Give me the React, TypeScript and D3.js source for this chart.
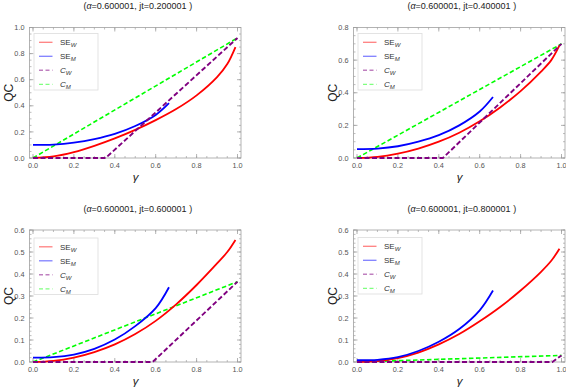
import React from 'react';
import * as d3 from 'd3';

// gamma grids the curves were read on
const gammaW = [0, 0.1, 0.2, 0.3, 0.4, 0.5, 0.6, 0.7, 0.8, 0.9, 0.95, 0.99];
const gammaM = [0, 0.1, 0.2, 0.3, 0.4, 0.5, 0.6, 0.665];

// jt = 0.2
const seW1 = [0, 0.012, 0.045, 0.093, 0.15, 0.215, 0.29, 0.375, 0.48, 0.62, 0.72, 0.85];
const seM1 = [0.1, 0.103, 0.118, 0.145, 0.185, 0.245, 0.33, 0.42];
const cW1 = { gamma: [0, 0.355, 1], value: [0, 0, 0.92] };
const cM1 = { gamma: [0, 1], value: [0, 0.92] };

// jt = 0.4
const seW2 = [0, 0.007, 0.027, 0.058, 0.1, 0.155, 0.225, 0.31, 0.41, 0.53, 0.6, 0.69];
const seM2 = [0.055, 0.058, 0.072, 0.1, 0.14, 0.2, 0.285, 0.374];
const cW2 = { gamma: [0, 0.42, 1], value: [0, 0, 0.7] };
const cM2 = { gamma: [0, 1], value: [0, 0.7] };

// jt = 0.6
const seW3 = [0, 0.005, 0.02, 0.045, 0.08, 0.127, 0.187, 0.262, 0.35, 0.448, 0.5, 0.555];
const seM3 = [0.02, 0.022, 0.034, 0.06, 0.102, 0.163, 0.245, 0.34];
const cW3 = { gamma: [0, 0.585, 1], value: [0, 0, 0.365] };
const cM3 = { gamma: [0, 1], value: [0, 0.365] };

// jt = 0.8
const seW4 = [0, 0.004, 0.018, 0.043, 0.08, 0.127, 0.185, 0.25, 0.325, 0.41, 0.46, 0.515];
const seM4 = [0.008, 0.01, 0.022, 0.05, 0.092, 0.15, 0.235, 0.325];
const cW4 = { gamma: [0, 0.955, 1], value: [0, 0, 0.03] };
const cM4 = { gamma: [0, 1], value: [0, 0.03] };

const jtLabels = ['0.200001', '0.400001', '0.600001', '0.800001'];
const yMaxes = [1.0, 0.8, 0.6, 0.6];
const yMajors = [0.2, 0.2, 0.1, 0.1];
const yMinors = [0.05, 0.05, 0.02, 0.02];

const legendNames = [
  { main: 'SE', sub: 'W', italic: false },
  { main: 'SE', sub: 'M', italic: false },
  { main: 'C', sub: 'W', italic: true },
  { main: 'C', sub: 'M', italic: true },
];

const RED = '#ff0000';
const BLUE = '#0000ff';
const PURPLE = '#800080';
const GREEN = '#00ff00';

const panels = [
  { seW: seW1, seM: seM1, cW: cW1, cM: cM1, left: 29.5, top: 27.5, bottom: 158, legendTop: 33.5 },
  { seW: seW2, seM: seM2, cW: cW2, cM: cM2, left: 353.5, top: 27.5, bottom: 158, legendTop: 33.5 },
  { seW: seW3, seM: seM3, cW: cW3, cM: cM3, left: 29.5, top: 230, bottom: 362, legendTop: 238 },
  { seW: seW4, seM: seM4, cW: cW4, cM: cM4, left: 353.5, top: 230, bottom: 362, legendTop: 237.5 },
];

const FRAME_W = 211.5;
const fmt = d3.format('.1f');
const FONT = "'Liberation Sans', Arial, sans-serif";

function Panel({ p, i }: { p: any; i: number }) {
  const right = p.left + FRAME_W;
  const x = d3.scaleLinear().domain([0, 1]).range([p.left + 3.5, right - 3.5]);
  const y = d3.scaleLinear().domain([0, yMaxes[i]]).range([p.bottom, p.top]);
  const line = d3.line<[number, number]>()
    .x(d => x(d[0]))
    .y(d => y(d[1]))
    .curve(d3.curveCatmullRom.alpha(0.5));
  const straight = d3.line<[number, number]>().x(d => x(d[0])).y(d => y(d[1]));

  const xMajor = d3.range(0, 1.0001, 0.2);
  const xMinor = d3.range(0, 1.0001, 0.05);
  const yMajor = d3.range(0, yMaxes[i] + 1e-6, yMajors[i]);
  const yMinor = d3.range(0, yMaxes[i] + 1e-6, yMinors[i]);

  const seWPath = line(gammaW.map((g, k) => [g, p.seW[k]] as [number, number]));
  const seMPath = line(gammaM.map((g, k) => [g, p.seM[k]] as [number, number]));
  const cWPath = straight(p.cW.gamma.map((g: number, k: number) => [g, p.cW.value[k]] as [number, number]));
  const cMPath = straight(p.cM.gamma.map((g: number, k: number) => [g, p.cM.value[k]] as [number, number]));

  const legendStyles = [
    { stroke: RED, dash: undefined, w: 1.3 },
    { stroke: BLUE, dash: undefined, w: 1.3 },
    { stroke: PURPLE, dash: '4,2.5', w: 1.6 },
    { stroke: GREEN, dash: '4,2.5', w: 1.3 },
  ];

  const midX = p.left + FRAME_W / 2 + 2.5;
  const frameColor = '#a0a0a0';

  return (
    <g>
      <text x={midX} y={9} transform={`translate(0,${p.top - 27.5})`} textAnchor="middle" fontSize={9} fontFamily={FONT} fill="#222">
        (<tspan fontStyle="italic">α</tspan>=0.600001, jt={jtLabels[i]} )
      </text>

      {/* frame */}
      <rect x={p.left} y={p.top} width={FRAME_W} height={p.bottom - p.top} fill="none" stroke={frameColor} strokeWidth={0.8} />

      {/* x ticks */}
      {xMinor.map((v, k) => (
        <g key={'xm' + k}>
          <line x1={x(v)} x2={x(v)} y1={p.bottom} y2={p.bottom - 2} stroke={frameColor} strokeWidth={0.7} />
          <line x1={x(v)} x2={x(v)} y1={p.top} y2={p.top + 2} stroke={frameColor} strokeWidth={0.7} />
        </g>
      ))}
      {xMajor.map((v, k) => (
        <g key={'xM' + k}>
          <line x1={x(v)} x2={x(v)} y1={p.bottom} y2={p.bottom - 4} stroke={frameColor} strokeWidth={0.8} />
          <line x1={x(v)} x2={x(v)} y1={p.top} y2={p.top + 4} stroke={frameColor} strokeWidth={0.8} />
          <text x={x(v)} y={p.bottom + 9.5} textAnchor="middle" fontSize={7.3} fontFamily={FONT} fill="#555">{fmt(v)}</text>
        </g>
      ))}

      {/* y ticks */}
      {yMinor.map((v, k) => (
        <g key={'ym' + k}>
          <line x1={p.left} x2={p.left + 2} y1={y(v)} y2={y(v)} stroke={frameColor} strokeWidth={0.7} />
          <line x1={right} x2={right - 2} y1={y(v)} y2={y(v)} stroke={frameColor} strokeWidth={0.7} />
        </g>
      ))}
      {yMajor.map((v, k) => (
        <g key={'yM' + k}>
          <line x1={p.left} x2={p.left + 4} y1={y(v)} y2={y(v)} stroke={frameColor} strokeWidth={0.8} />
          <line x1={right} x2={right - 4} y1={y(v)} y2={y(v)} stroke={frameColor} strokeWidth={0.8} />
          <text x={p.left - 5} y={y(v) + 2.6} textAnchor="end" fontSize={7.3} fontFamily={FONT} fill="#555">{fmt(v)}</text>
        </g>
      ))}

      {/* axis labels */}
      <text transform={`translate(${p.left - 16.5},${(p.top + p.bottom) / 2}) rotate(-90)`} textAnchor="middle" fontSize={12} fontFamily={FONT} fill="#222">QC</text>
      <text x={p.left + 106} y={p.bottom + 23} textAnchor="middle" fontSize={11.5} fontStyle="italic" fontFamily={FONT} fill="#222">γ</text>

      {/* curves */}
      <path d={cMPath || ''} fill="none" stroke={GREEN} strokeWidth={1.6} strokeDasharray="4.5,2.5" />
      <path d={seWPath || ''} fill="none" stroke={RED} strokeWidth={1.8} />
      <path d={seMPath || ''} fill="none" stroke={BLUE} strokeWidth={1.8} />
      <path d={cWPath || ''} fill="none" stroke={PURPLE} strokeWidth={1.9} strokeDasharray="5,2.5" />

      {/* legend */}
      <rect x={p.left + 4.5} y={p.legendTop} width={64} height={56.5} fill="white" stroke="#ddd" strokeWidth={0.8} />
      {legendNames.map((n, k) => {
        const ly = p.legendTop + 8.8 + k * 14;
        const s = legendStyles[k];
        return (
          <g key={'lg' + k}>
            <line x1={p.left + 9.5} x2={p.left + 23} y1={ly} y2={ly} stroke={s.stroke} strokeOpacity={0.5} strokeWidth={s.w} strokeDasharray={s.dash} />
            <text x={p.left + 30.5} y={ly + 2.8} fontSize={8} fontFamily={FONT} fill="#333">
              <tspan fontStyle={n.italic ? 'italic' : 'normal'}>{n.main}</tspan>
              <tspan fontSize={6} fontStyle="italic" dy={2}>{n.sub}</tspan>
            </text>
          </g>
        );
      })}
    </g>
  );
}

export default function App() {
  return (
    <svg width={566} height={389} style={{ position: 'absolute', left: 0, top: 0, background: 'white' }}>
      <rect width={566} height={389} fill="white" />
      {panels.map((p, i) => (
        <Panel key={i} p={p} i={i} />
      ))}
    </svg>
  );
}
